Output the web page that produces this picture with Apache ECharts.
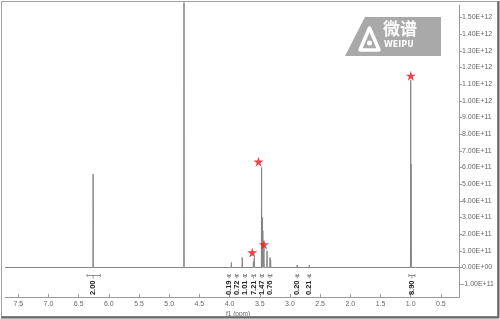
<!DOCTYPE html>
<html><head><meta charset="utf-8">
<script src="https://cdn.jsdelivr.net/npm/echarts@6/dist/echarts.min.js"></script>
<style>html,body{margin:0;padding:0;background:#fff}#c{width:500px;height:319px}</style>
</head><body><div id="c"></div>
<script>
// ---- data ----
const xTicks = [7.5, 7.0, 6.5, 6.0, 5.5, 5.0, 4.5, 4.0, 3.5, 3.0, 2.5, 2.0, 1.5, 1.0, 0.5];
const yTicks = [-1e11, 0, 1e11, 2e11, 3e11, 4e11, 5e11, 6e11, 7e11, 8e11, 9e11, 1.0e12, 1.1e12, 1.2e12, 1.3e12, 1.4e12, 1.5e12];
const peakPpm = [6.26, 4.755, 3.97, 3.79, 3.605, 3.59, 3.47, 3.455, 3.45, 3.43, 3.38, 3.33, 3.32, 2.88, 2.68, 1.07, 1.00, 0.995, 0.92];
const peakInt = [5.6e11, 1.59e12, 0.3e11, 0.6e11, 0.35e11, 0.6e11, 6.0e11, 3.0e11, 2.2e11, 1.2e11, 1.0e11, 0.6e11, 0.45e11, 0.15e11, 0.15e11, 0.1e11, 11.25e11, 6.2e11, 0.05e11];
const starPpm = [3.52, 3.43, 3.625, 0.998];
const starInt = [6.35e11, 1.38e11, 0.9e11, 11.5e11];
const integCenter = [6.26, 4.01, 3.88, 3.745, 3.60, 3.465, 3.33, 2.88, 2.68, 0.98];
const integFrom = [6.36, 4.03, 3.90, 3.77, 3.63, 3.49, 3.36, 2.90, 2.70, 1.03];
const integTo = [6.14, 3.99, 3.86, 3.72, 3.57, 3.44, 3.30, 2.86, 2.66, 0.93];
const integLabels = ['2.00', '0.19', '0.72', '1.01', '7.21', '1.47', '0.76', '0.20', '0.21', '8.90'];
const xMin = 0.2, xMax = 7.72, yMin = -1.77e11, yMax = 1.575e12;

// ---- build series data ----
const hw = 0.004;
const order = peakPpm.map((p, i) => i).sort((a, b) => peakPpm[b] - peakPpm[a]);
const spec = [[xMax, 0]];
order.forEach(i => {
  spec.push([peakPpm[i] + hw, 0], [peakPpm[i], peakInt[i]], [peakPpm[i] - hw, 0]);
});
spec.push([xMin, 0]);
const stars = starPpm.map((p, i) => [p, starInt[i]]);
const integ = integCenter.map((c, i) => [c, integFrom[i], integTo[i], 0]);

function fmtExp(v) {
  const s = v.toExponential(2).split('e');
  const sign = s[1][0];
  const d = s[1].slice(1).padStart(2, '0');
  return s[0] + 'E' + sign + d;
}

const chart = echarts.init(document.getElementById('c'), null, {renderer: 'canvas'});
const starPath = 'path://M50,0 L61,35 L98,35 L68,57 L79,91 L50,70 L21,91 L32,57 L2,35 L39,35 Z';
chart.setOption({
  animation: false,
  backgroundColor: '#fff',
  textStyle: {fontFamily: 'Liberation Sans'},
  grid: {left: 5, right: 41, top: 5, bottom: 22, outerBoundsMode: 'none', containLabel: false},
  xAxis: {
    type: 'value', inverse: true, min: xMin, max: xMax,
    axisLine: {show: true, onZero: false, lineStyle: {color: '#9a9a9a', width: 1}},
    axisTick: {show: true, inside: true, length: 3, customValues: xTicks, lineStyle: {color: '#9a9a9a'}},
    axisLabel: {customValues: xTicks, formatter: v => v.toFixed(1), fontSize: 7, color: '#666', margin: 4},
    splitLine: {show: false},
    name: 'f1 (ppm)', nameLocation: 'middle', nameGap: 14, nameMoveOverlap: false,
    nameTextStyle: {fontSize: 6.5, color: '#666', padding: [0, 0, 0, 12]}
  },
  yAxis: {
    type: 'value', position: 'right', min: yMin, max: yMax,
    axisLine: {show: true, lineStyle: {color: '#9a9a9a', width: 1}},
    axisTick: {show: true, length: 3, customValues: yTicks, lineStyle: {color: '#9a9a9a'}},
    axisLabel: {customValues: yTicks, formatter: fmtExp, fontSize: 7, color: '#666', margin: 3},
    splitLine: {show: false}
  },
  graphic: [
    {type: 'rect', shape: {x: 1.5, y: 1.5, width: 496, height: 315}, style: {fill: null, stroke: '#a0a0a0', lineWidth: 1}, silent: true, z: 100},
    {type: 'line', shape: {x1: 498.5, y1: 1, x2: 498.5, y2: 318}, style: {stroke: '#666', lineWidth: 2}, z: 100},
    {type: 'line', shape: {x1: 1, y1: 317.5, x2: 499, y2: 317.5}, style: {stroke: '#666', lineWidth: 2}, z: 100},
    {type: 'group', z: 50, children: [
      {type: 'polygon', shape: {points: [[345, 56], [365, 17], [441, 17], [441, 56]]}, style: {fill: '#a4a4a4', opacity: 0.95}},
      {type: 'polygon', shape: {points: [[360, 50], [369.5, 28], [379, 50]]}, style: {fill: null, stroke: '#fff', lineWidth: 3.5, lineJoin: 'round'}},
      {type: 'circle', shape: {cx: 369.5, cy: 43, r: 2.5}, style: {fill: '#fff'}},
      {type: 'text', x: 383, y: 20, style: {text: '微谱', fill: '#fff', font: 'bold 17px "Noto Sans CJK SC"'}},
      {type: 'text', x: 384, y: 41, style: {text: 'WEIPU', fill: '#fff', font: 'bold 8px "DejaVu Sans"'}}
    ]}
  ],
  series: [
    {type: 'line', data: spec, symbol: 'none', clip: false, lineStyle: {color: '#858585', width: 1}, z: 3},
    {type: 'scatter', data: stars, symbol: starPath, symbolSize: 10, itemStyle: {color: '#e8141c'}, z: 5},
    {type: 'custom', data: integ, encode: {x: [0, 1, 2], y: 3}, z: 4,
      renderItem: function (params, api) {
        const c = api.coord([api.value(0), 0]);
        const a = api.coord([api.value(1), 0]);
        const b = api.coord([api.value(2), 0]);
        const yB = c[1] + 8;
        const st = {stroke: '#777', lineWidth: 0.8};
        return {type: 'group', children: [
          {type: 'line', shape: {x1: a[0], y1: yB, x2: b[0], y2: yB}, style: st},
          {type: 'line', shape: {x1: a[0], y1: yB - 1.5, x2: a[0], y2: yB + 1.5}, style: st},
          {type: 'line', shape: {x1: b[0], y1: yB - 1.5, x2: b[0], y2: yB + 1.5}, style: st},
          {type: 'line', shape: {x1: c[0], y1: yB, x2: c[0], y2: yB + 3}, style: st},
          {type: 'text', x: c[0], y: yB + 5, rotation: Math.PI / 2,
            style: {text: integLabels[params.dataIndex], textAlign: 'right', textVerticalAlign: 'middle',
              fill: '#222', font: 'bold 7.5px "Liberation Sans"'}}
        ]};
      }
    }
  ]
});
</script></body></html>
